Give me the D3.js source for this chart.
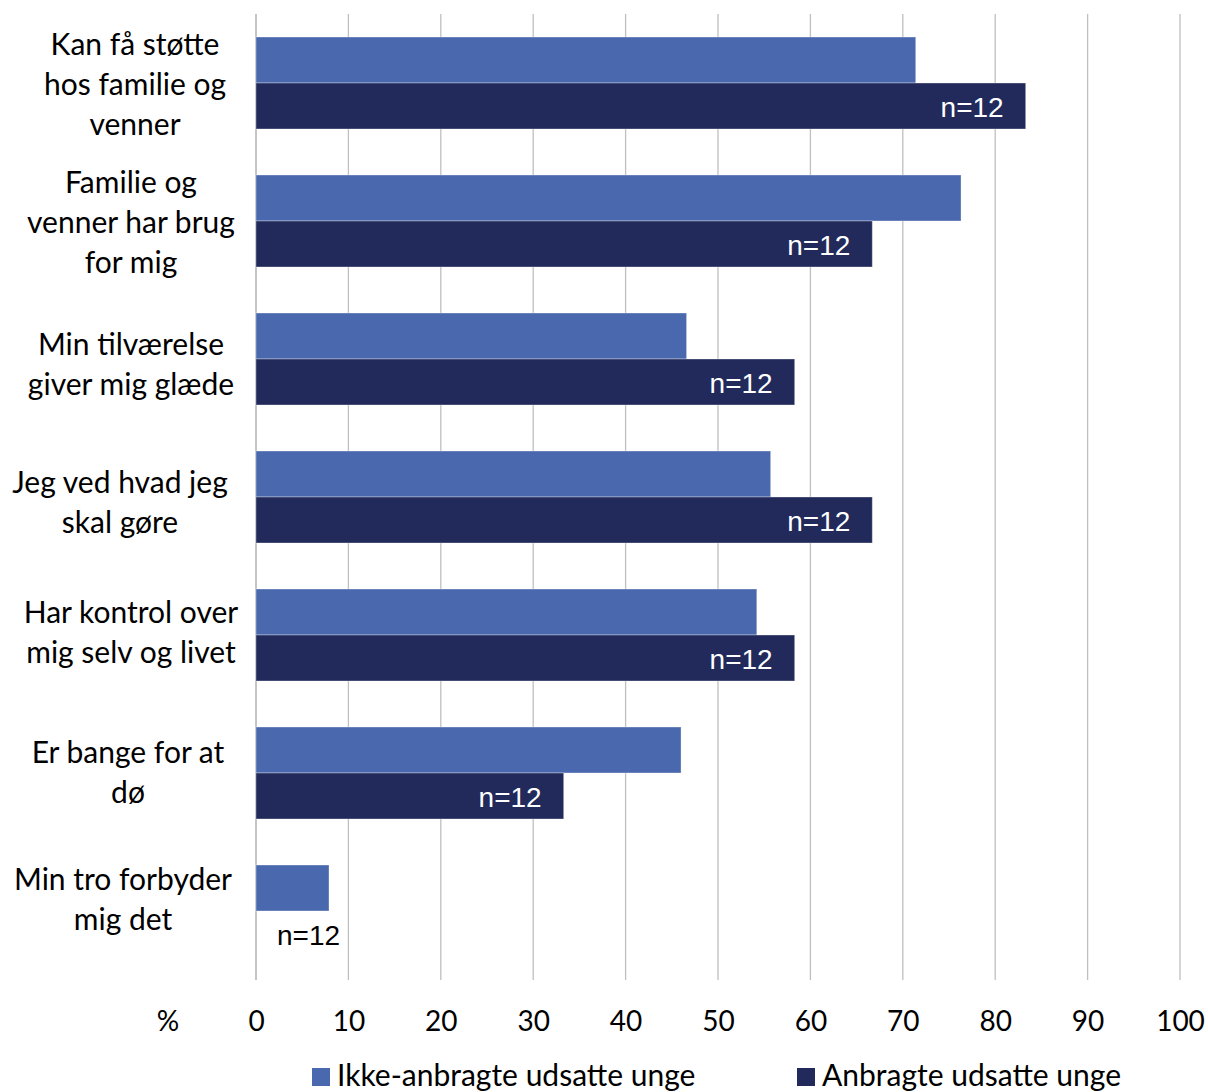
<!DOCTYPE html>
<html>
<head>
<meta charset="utf-8">
<script src="https://cdn.jsdelivr.net/npm/d3@7"></script>
<style>
html,body{margin:0;padding:0;background:#fff;}
svg{display:block;}
</style>
</head>
<body>
<svg id="chart" width="1208" height="1092"></svg>
<script>
// ---- data ----
const categories = [
  ["Kan få støtte", "hos familie og", "venner"],
  ["Familie og", "venner har brug", "for mig"],
  ["Min tilværelse", "giver mig glæde"],
  ["Jeg ved hvad jeg", "skal gøre"],
  ["Har kontrol over", "mig selv og livet"],
  ["Er bange for at", "dø"],
  ["Min tro forbyder", "mig det"]
];
const seriesNames = ["Ikke-anbragte udsatte unge", "Anbragte udsatte unge"];
const ikkeAnbragte = [71.4, 76.3, 46.6, 55.7, 54.2, 46.0, 7.9];
const anbragte = [83.3, 66.7, 58.3, 66.7, 58.3, 33.3, 0];
const nLabels = ["n=12", "n=12", "n=12", "n=12", "n=12", "n=12", "n=12"];
const xTicks = [0, 10, 20, 30, 40, 50, 60, 70, 80, 90, 100];
const axisUnit = "%";

// ---- layout ----
const colors = ["#4a68ae", "#212a5a"];
const catFont = "Lato, 'Open Sans', sans-serif";
const labelShiftY = [0, 0, 4, 4, -4, -2, -13];
const labelShiftX = [5, 1, 1, -10, 1, -2, -7];

const svg = d3.select("#chart");
const x = d3.scaleLinear().domain([0, 100]).range([256, 1180]);
const keys = categories.map((c, i) => "c" + i);
const y = d3.scaleBand().domain(keys).range([14, 980]).paddingInner(1/3).paddingOuter(1/6);
const ySub = d3.scaleBand().domain([0, 1]).range([0, y.bandwidth()]);

// gridlines
svg.append("g").selectAll("line").data(xTicks).join("line")
  .attr("x1", d => x(d)).attr("x2", d => x(d))
  .attr("y1", 14).attr("y2", 980)
  .attr("stroke", d => d === 0 ? "#a6a6a6" : "#bfbfbf")
  .attr("stroke-width", 1.3);

// x axis
const xAxis = d3.axisBottom(x).tickValues(xTicks).tickSize(0).tickPadding(0);
const gx = svg.append("g").attr("transform", "translate(0,1031)").call(xAxis);
gx.select(".domain").remove();
gx.selectAll("text")
  .attr("dy", 0).attr("y", 0)
  .attr("font-family", catFont).attr("font-size", 28).attr("fill", "#000");
svg.append("text").attr("x", 168).attr("y", 1031).attr("text-anchor", "middle")
  .attr("font-family", catFont).attr("font-size", 28).text(axisUnit);

// bars
const series = [ikkeAnbragte, anbragte];
series.forEach((vals, s) => {
  svg.append("g").selectAll("rect").data(vals).join("rect")
    .attr("x", x(0))
    .attr("y", (d, i) => y(keys[i]) + ySub(s))
    .attr("width", d => x(d) - x(0))
    .attr("height", ySub.bandwidth())
    .attr("fill", colors[s])
    .attr("stroke", "rgba(255,255,255,0.35)")
    .attr("stroke-width", 1);
});

// n labels on dark bars
svg.append("g").selectAll("text").data(anbragte).join("text")
  .attr("x", d => d > 0 ? x(d) - 22 : x(0) + 21)
  .attr("y", (d, i) => y(keys[i]) + ySub(1) + ySub.bandwidth() / 2 + 11)
  .attr("text-anchor", d => d > 0 ? "end" : "start")
  .attr("font-family", "'Liberation Sans', Arial, sans-serif")
  .attr("font-size", 28)
  .attr("fill", d => d > 0 ? "#fff" : "#000")
  .text((d, i) => nLabels[i]);

// category labels
const lineH = 40;
const cl = svg.append("g");
categories.forEach((lines, i) => {
  const cy = y(keys[i]) + y.bandwidth() / 2 + labelShiftY[i];
  const first = cy + 12 - (lines.length - 1) * lineH / 2;
  const t = cl.append("text")
    .attr("text-anchor", "middle")
    .attr("font-family", catFont).attr("font-size", 30).attr("fill", "#000");
  lines.forEach((ln, k) => {
    t.append("tspan").attr("x", 130 + labelShiftX[i]).attr("y", first + k * lineH).text(ln);
  });
});

// legend
const legX = [312, 797];
const leg = svg.append("g");
seriesNames.forEach((name, s) => {
  leg.append("rect").attr("x", legX[s]).attr("y", 1068).attr("width", 18).attr("height", 18)
    .attr("fill", colors[s]);
  leg.append("text").attr("x", legX[s] + 25).attr("y", 1086)
    .attr("font-family", catFont).attr("font-size", 30).attr("fill", "#000").text(name);
});
</script>
</body>
</html>
